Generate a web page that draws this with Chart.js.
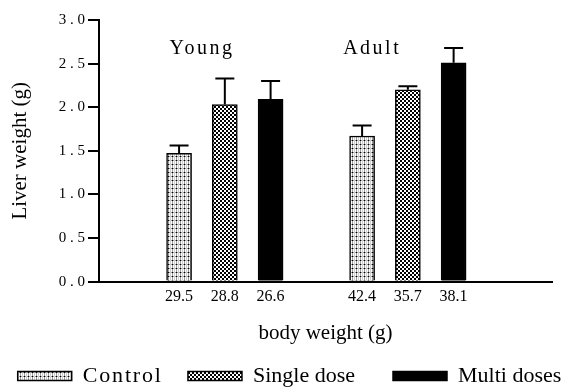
<!DOCTYPE html>
<html>
<head>
<meta charset="utf-8">
<script src="https://cdn.jsdelivr.net/npm/chart.js@4.4.1/dist/chart.umd.min.js"></script>
<style>
  html, body { margin: 0; padding: 0; background: #fff; }
  #wrap { width: 573px; height: 387px; }
</style>
</head>
<body>
<div id="wrap"><canvas id="chart"></canvas></div>
<script>
// Liver weight by treatment, young vs adult mice
const seriesNames = ['Control', 'Single dose', 'Multi doses'];
const groupNames = ['Young', 'Adult'];
const controlMeans = [1.47, 1.67];
const singleMeans = [2.03, 2.20];
const multiMeans = [2.09, 2.51];
const controlErr = [0.09, 0.12];
const singleErr = [0.30, 0.04];
const multiErr = [0.21, 0.17];
// bar slots on the x axis (young: 1.75-3.75, adult: 5.75-7.75)
const controlSlots = [1.75, 5.75];
const singleSlots = [2.75, 6.75];
const multiSlots = [3.75, 7.75];
const xTickSlots = [1.75, 2.75, 3.75, 5.75, 6.75, 7.75];
const xTickLabels = ['29.5', '28.8', '26.6', '42.4', '35.7', '38.1'];
const groupLabelSlots = [2.25, 5.97];
const groupLabelLevel = 2.67;

const SERIF = '"Liberation Serif", "DejaVu Serif", serif';

// Helper to build small tiled fill patterns
const makePattern = (size, paint) => {
    const c = document.createElement('canvas');
    c.width = size;
    c.height = size;
    const g = c.getContext('2d');
    paint(g);
    return document.getElementById('chart').getContext('2d').createPattern(c, 'repeat');
};

const controlFill = makePattern(4, g => {
    g.fillStyle = '#ffffff';
    g.fillRect(0, 0, 4, 4);
    g.fillStyle = '#9a9a9a';
    g.fillRect(0, 0, 1, 4);
    g.fillRect(0, 0, 4, 1);
    g.fillStyle = '#cfcfcf';
    g.fillRect(2, 0, 1, 4);
    g.fillStyle = '#000000';
    g.fillRect(0, 0, 1, 1);
});

const singleFill = makePattern(4, g => {
    g.fillStyle = '#ffffff';
    g.fillRect(0, 0, 4, 4);
    g.fillStyle = '#000000';
    g.fillRect(0, 0, 2, 2);
    g.fillRect(2, 2, 2, 2);
});

const toPoints = (slots, values) => slots.map((x, i) => ({ x, y: values[i] }));

// spread letters a little, like the original figure
const spaced = (text, gap) => text.split('').join(gap);

// Upper error bars plus the group captions
const extrasPlugin = {
    id: 'extras',
    afterLayout(chart) {
        // nudge the legend row right/down to where the original has it
        const lg = chart.legend;
        lg.left += 3;
        lg.right += 3;
        lg.top += 10;
        lg.bottom += 10;
    },
    afterDatasetsDraw(chart) {
        const ctx = chart.ctx;
        const yScale = chart.scales.y;
        const xScale = chart.scales.x;
        const errs = [controlErr, singleErr, multiErr];
        const means = [controlMeans, singleMeans, multiMeans];
        ctx.save();
        ctx.strokeStyle = '#000';
        ctx.lineWidth = 2;
        chart.data.datasets.forEach((ds, di) => {
            const meta = chart.getDatasetMeta(di);
            meta.data.forEach((bar, i) => {
                const top = yScale.getPixelForValue(means[di][i] + errs[di][i]);
                ctx.beginPath();
                ctx.moveTo(bar.x, bar.y);
                ctx.lineTo(bar.x, top);
                ctx.moveTo(bar.x - 9.5, top);
                ctx.lineTo(bar.x + 9.5, top);
                ctx.stroke();
            });
        });
        ctx.fillStyle = '#000';
        ctx.font = '20px ' + SERIF;
        ctx.textAlign = 'center';
        ctx.textBaseline = 'middle';
        if ('letterSpacing' in ctx) ctx.letterSpacing = '2.5px';
        groupNames.forEach((name, i) => {
            ctx.fillText(name, xScale.getPixelForValue(groupLabelSlots[i]), yScale.getPixelForValue(groupLabelLevel));
        });
        ctx.restore();
    }
};

// trailing gaps so the legend entries sit where the original put them
const legendTails = ['\u2003', '\u2003\u2002', ''];

new Chart(document.getElementById('chart'), {
    type: 'bar',
    data: {
        datasets: [
            {
                label: seriesNames[0],
                data: toPoints(controlSlots, controlMeans),
                backgroundColor: controlFill,
                borderColor: '#000',
                borderWidth: 1.5
            },
            {
                label: seriesNames[1],
                data: toPoints(singleSlots, singleMeans),
                backgroundColor: singleFill,
                borderColor: '#000',
                borderWidth: 1.5
            },
            {
                label: seriesNames[2],
                data: toPoints(multiSlots, multiMeans),
                backgroundColor: '#000',
                borderColor: '#000',
                borderWidth: 1.5
            }
        ]
    },
    options: {
        responsive: true,
        maintainAspectRatio: false,
        animation: false,
        grouped: false,
        barThickness: 25,
        layout: { padding: { top: 20, right: 0, left: 0, bottom: 0 } },
        scales: {
            x: {
                type: 'linear',
                min: 0,
                max: 9.9,
                offset: false,
                afterBuildTicks: scale => {
                    scale.ticks = xTickSlots.map(v => ({ value: v }));
                },
                ticks: {
                    color: '#000',
                    font: { family: SERIF, size: 16 },
                    padding: 6,
                    autoSkip: false,
                    maxRotation: 0,
                    callback: (value, index) => xTickLabels[index]
                },
                grid: { display: false, drawTicks: false },
                border: { display: true, color: '#000', width: 2 },
                title: {
                    display: true,
                    text: 'body weight (g)',
                    color: '#000',
                    font: { family: SERIF, size: 21 },
                    padding: { top: 8, bottom: 4 }
                }
            },
            y: {
                min: 0,
                max: 3,
                afterFit: scale => { scale.width = 99; },
                ticks: {
                    stepSize: 0.5,
                    color: '#000',
                    font: { family: SERIF, size: 15 },
                    padding: 3,
                    callback: value => spaced(value.toFixed(1), ' ')
                },
                grid: {
                    drawOnChartArea: false,
                    tickLength: 11,
                    tickColor: '#000',
                    lineWidth: 2
                },
                border: { display: true, color: '#000', width: 2 },
                title: {
                    display: true,
                    text: 'Liver weight (g)',
                    color: '#000',
                    font: { family: SERIF, size: 21 },
                    padding: { top: 8, bottom: 0 }
                }
            },
            // empty right-hand strip so the x axis stops short of the edge
            gutter: {
                type: 'linear',
                position: 'right',
                display: true,
                afterFit: scale => { scale.width = 21; },
                ticks: { display: false },
                grid: { display: false, drawTicks: false },
                border: { display: false }
            }
        },
        plugins: {
            legend: {
                position: 'bottom',
                labels: {
                    color: '#000',
                    font: { family: SERIF, size: 22 },
                    boxWidth: 54,
                    boxHeight: 9,
                    padding: 5,
                    generateLabels: chart => chart.data.datasets.map((ds, i) => ({
                        text: (i === 0 ? spaced(ds.label, '\u200A') : ds.label) + legendTails[i],
                        fillStyle: ds.backgroundColor,
                        strokeStyle: '#000',
                        lineWidth: 1.5,
                        datasetIndex: i
                    }))
                }
            },
            tooltip: { enabled: false }
        }
    },
    plugins: [extrasPlugin]
});
</script>
</body>
</html>
